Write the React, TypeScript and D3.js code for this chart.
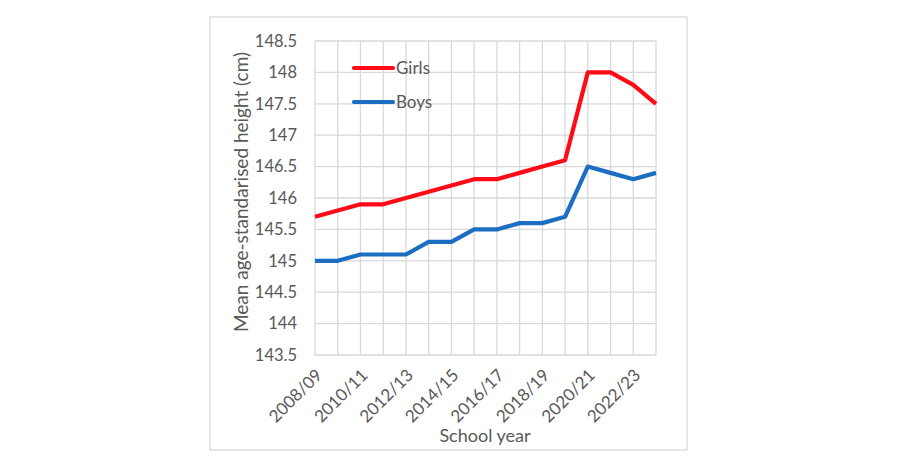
import React from "react";
import * as d3 from "d3";

const years = [
  "2008/09", "2009/10", "2010/11", "2011/12", "2012/13", "2013/14", "2014/15", "2015/16",
  "2016/17", "2017/18", "2018/19", "2019/20", "2020/21", "2021/22", "2022/23", "2023/24",
];
const girls = [145.7, 145.8, 145.9, 145.9, 146.0, 146.1, 146.2, 146.3, 146.3, 146.4, 146.5, 146.6, 148.0, 148.0, 147.8, 147.5];
const boys = [145.0, 145.0, 145.1, 145.1, 145.1, 145.3, 145.3, 145.5, 145.5, 145.6, 145.6, 145.7, 146.5, 146.4, 146.3, 146.4];
const yTicks = [143.5, 144, 144.5, 145, 145.5, 146, 146.5, 147, 147.5, 148, 148.5];
const series = [
  { name: "Girls", values: girls, color: "#FF0A16" },
  { name: "Boys", values: boys, color: "#1B6EC2" },
];

export default function App() {
  const W = 897, H = 467;
  const left = 315, right = 656, top = 41, bottom = 355;
  const x = d3.scalePoint<string>().domain(years).range([left, right]);
  const y = d3.scaleLinear().domain([143.5, 148.5]).range([bottom, top]);
  const line = d3.line<number>().x((_, i) => x(years[i]) as number).y((d) => y(d));
  const font = "Lato, 'Open Sans', sans-serif";
  const textColor = "#595959";
  const grid = "#D9D9D9";
  return (
    <svg width={W} height={H} style={{ position: "absolute", left: 0, top: 0, background: "#fff" }} fontFamily={font}>
      <rect x={210} y={17} width={477} height={433} fill="#fff" stroke={grid} strokeWidth={1.3} />
      {yTicks.map((t) => (
        <line key={"h" + t} x1={left} x2={right} y1={y(t)} y2={y(t)} stroke={grid} strokeWidth={1.3} />
      ))}
      {years.map((yr) => (
        <line key={"v" + yr} x1={x(yr)} x2={x(yr)} y1={top} y2={bottom} stroke={grid} strokeWidth={1.3} />
      ))}
      {yTicks.map((t) => (
        <text key={"yt" + t} x={297} y={y(t)} dy="0.35em" textAnchor="end" fontSize={16.5} fill={textColor}>
          {d3.format("")(t)}
        </text>
      ))}
      {years.map((yr, i) =>
        i % 2 === 0 ? (
          <text
            key={"xt" + yr}
            transform={`translate(${(x(yr) as number) + 4},${bottom + 17}) rotate(-45)`}
            textAnchor="end"
            fontSize={17}
            fill={textColor}
            dy="0.35em"
          >
            {yr}
          </text>
        ) : null
      )}
      {series.map((s) => (
        <path key={s.name} d={line(s.values) || ""} fill="none" stroke={s.color} strokeWidth={4.2} strokeLinejoin="round" />
      ))}
      {series.map((s, i) => (
        <g key={"lg" + s.name}>
          <line x1={354} x2={393} y1={68 + i * 34} y2={68 + i * 34} stroke={s.color} strokeWidth={4.2} strokeLinecap="round" />
          <text x={396} y={68 + i * 34} dy="0.35em" fontSize={17} fill={textColor}>
            {s.name}
          </text>
        </g>
      ))}
      <text x={485} y={442} textAnchor="middle" fontSize={18} fill={textColor}>
        School year
      </text>
      <text transform={`translate(248,${(top + bottom) / 2 - 6}) rotate(-90)`} textAnchor="middle" fontSize={19} fill={textColor}>
        Mean age-standarised height (cm)
      </text>
    </svg>
  );
}
